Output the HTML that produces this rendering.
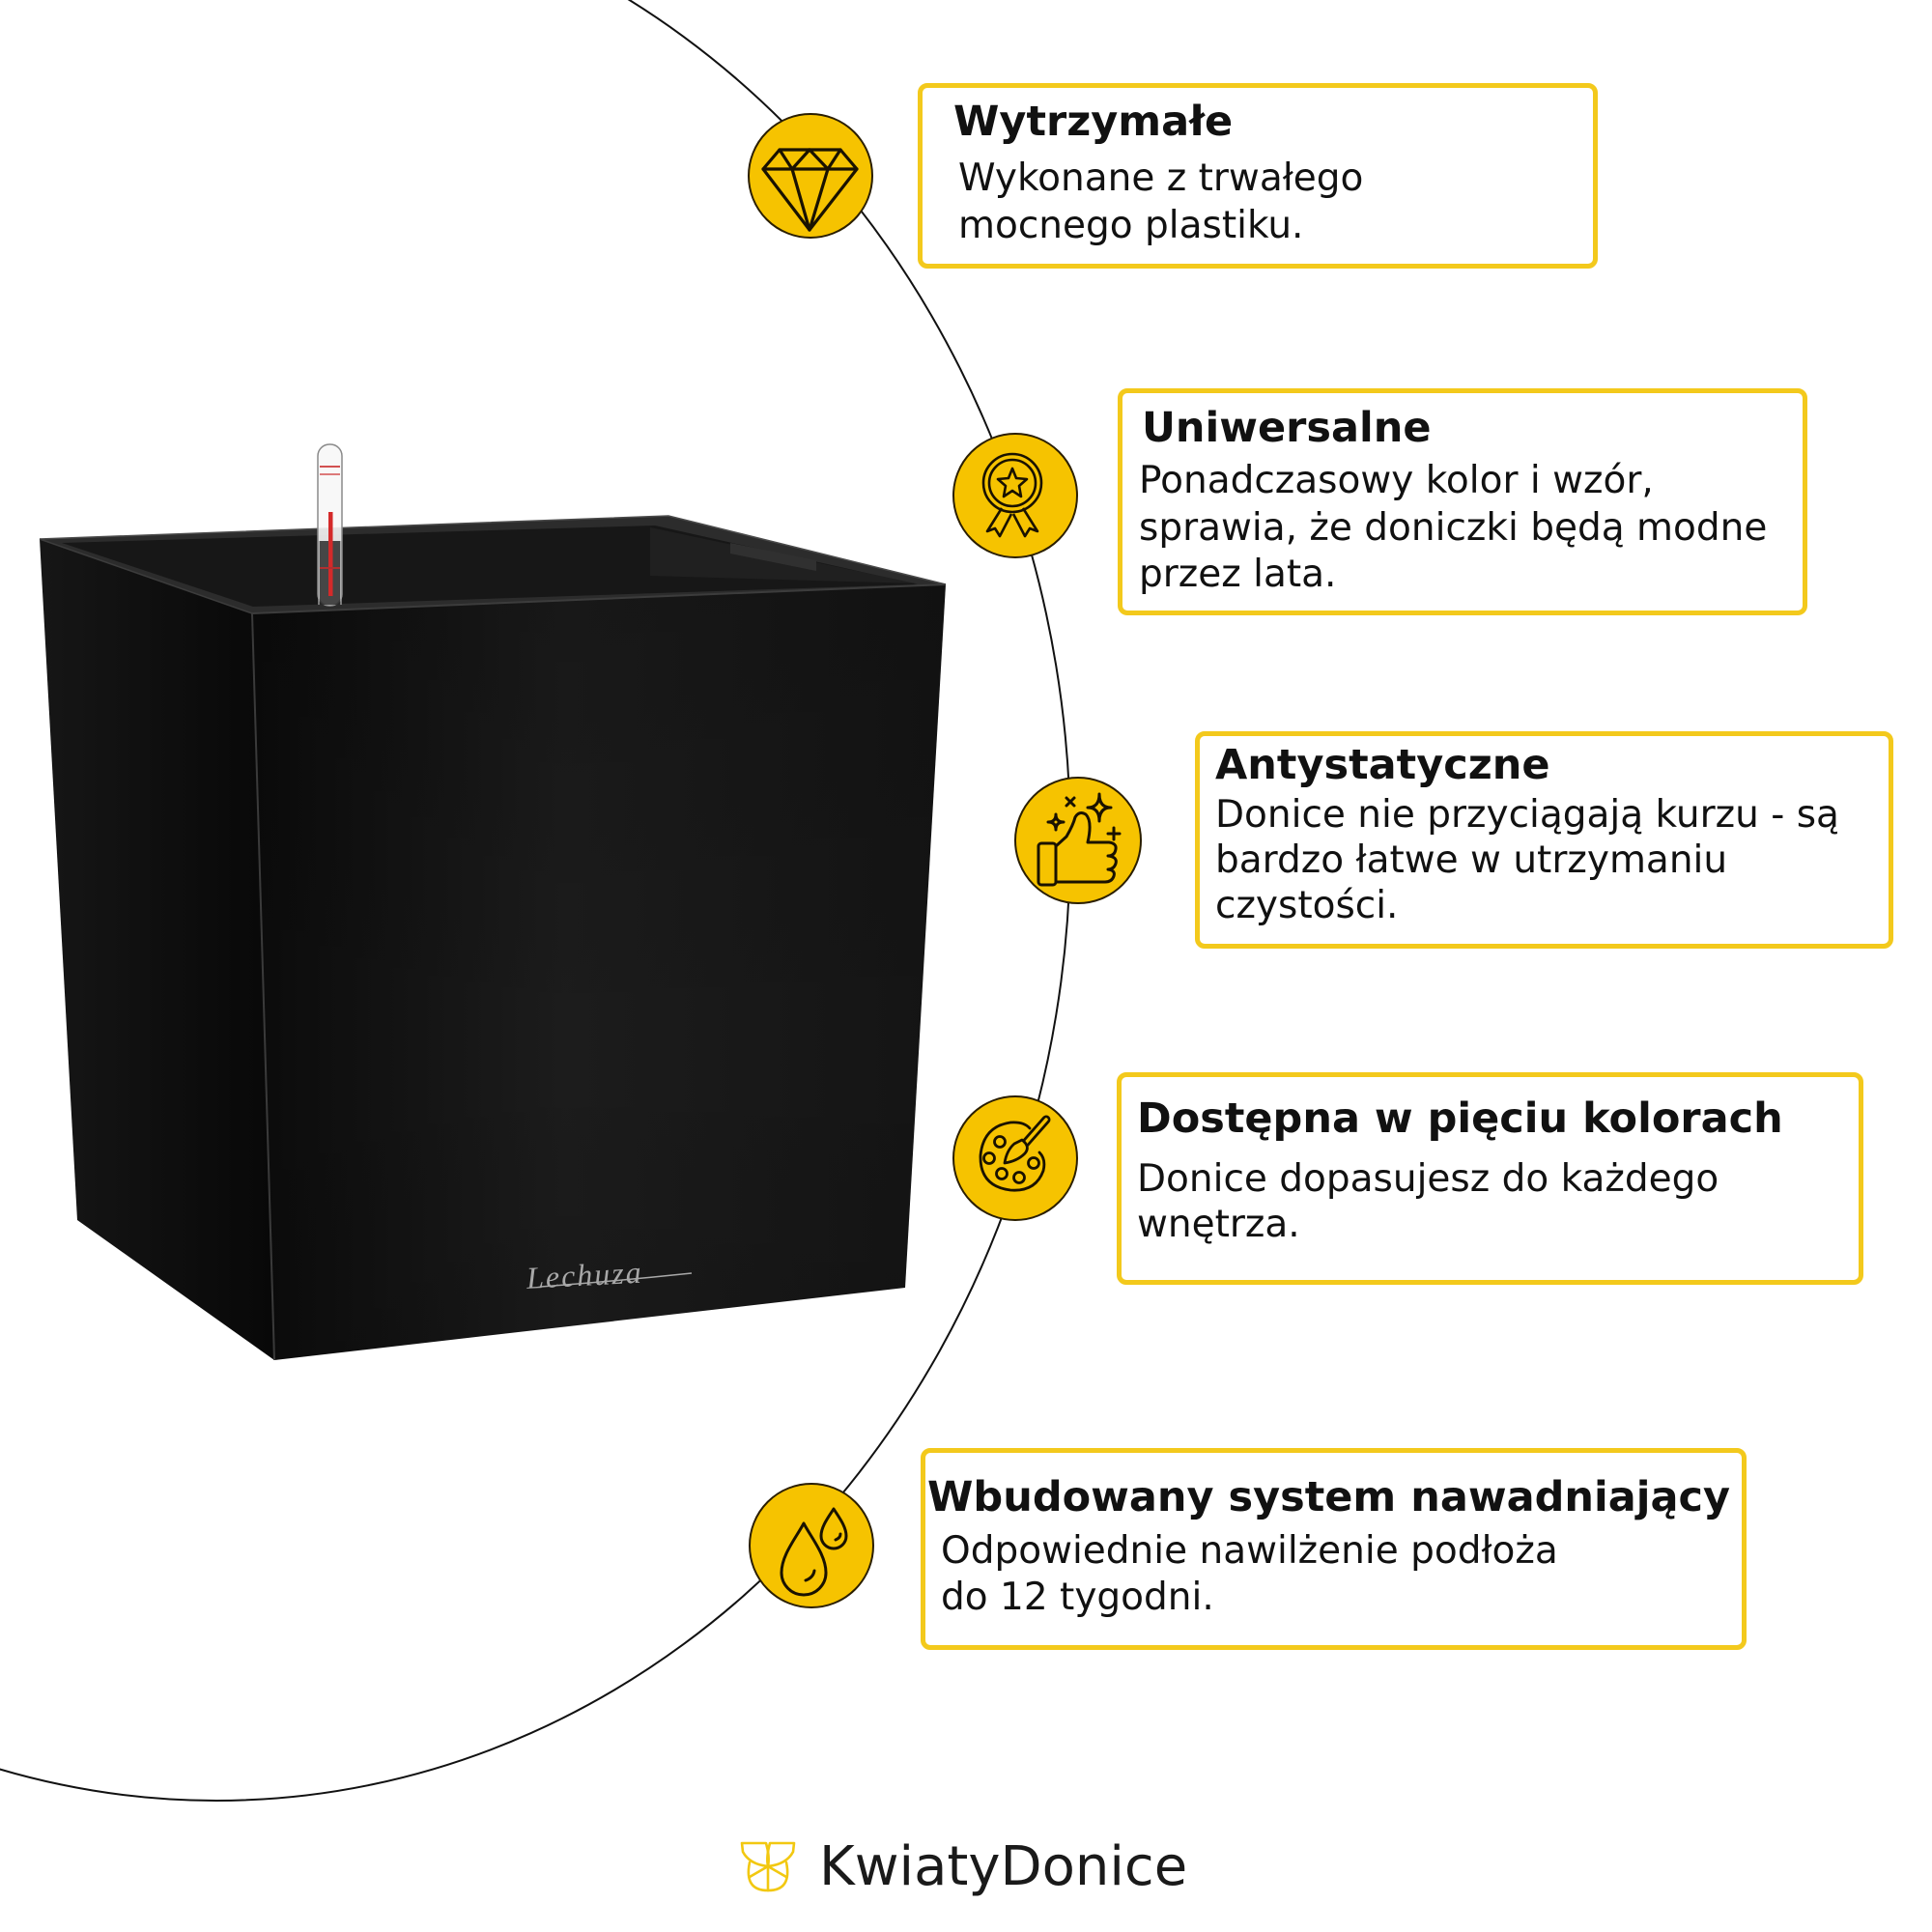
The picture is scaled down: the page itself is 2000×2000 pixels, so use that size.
<!DOCTYPE html>
<html>
<head>
<meta charset="utf-8">
<style>
html,body{margin:0;padding:0;background:#fff;}
#wrap{position:relative;width:2000px;height:2000px;overflow:hidden;background:#fff;}
svg{position:absolute;left:0;top:0;}
.box{position:absolute;border:5px solid #F3C91C;border-radius:10px;box-sizing:border-box;background:#fff;}
.t{position:absolute;font-family:"DejaVu Sans","Liberation Sans",sans-serif;color:#111;white-space:nowrap;}
.h{font-weight:bold;font-size:43px;line-height:50px;}
.b{font-size:39px;}
</style>
</head>
<body>
<div id="wrap">
<svg width="2000" height="2000" viewBox="0 0 2000 2000" xmlns="http://www.w3.org/2000/svg">
  <defs>
    <linearGradient id="fg" x1="0" y1="0" x2="1" y2="0">
      <stop offset="0" stop-color="#0b0b0b"/>
      <stop offset="0.45" stop-color="#1c1c1c"/>
      <stop offset="1" stop-color="#141414"/>
    </linearGradient>
    <linearGradient id="fgv" x1="0" y1="0" x2="0" y2="1">
      <stop offset="0" stop-color="#000" stop-opacity="0.15"/>
      <stop offset="0.6" stop-color="#000" stop-opacity="0"/>
      <stop offset="1" stop-color="#000" stop-opacity="0.1"/>
    </linearGradient>
    <linearGradient id="lg" x1="0" y1="0" x2="1" y2="0">
      <stop offset="0" stop-color="#161616"/>
      <stop offset="1" stop-color="#080808"/>
    </linearGradient>
  </defs>

  <!-- big arc -->
  <ellipse cx="224" cy="870" rx="884" ry="994" fill="none" stroke="#111" stroke-width="2"/>

  <!-- pot -->
  <polygon points="41,558 261,635 284,1408 80,1263" fill="url(#lg)"/>
  <polygon points="261,635 979,605 937,1333 284,1408" fill="url(#fg)"/>
  <polygon points="261,635 979,605 937,1333 284,1408" fill="url(#fgv)"/>
  <line x1="261" y1="635" x2="284" y2="1408" stroke="#3a3a3a" stroke-width="2"/>
  <!-- top -->
  <polygon points="41,558 692,534 979,605 261,635" fill="#2c2c2c"/>
  <polygon points="64,562 678,544 950,605 262,628" fill="#171717"/>
  <polygon points="673,546 948,604 673,596" fill="#202020"/>
  <polygon points="756,562 845,580 845,591 756,573" fill="#303030"/>
  <polyline points="41,558 692,534 979,605" fill="none" stroke="#4a4a4a" stroke-width="1.5"/>
  <line x1="261" y1="635" x2="979" y2="605" stroke="#3c3c3c" stroke-width="2"/>
  <line x1="41" y1="558" x2="261" y2="635" stroke="#3c3c3c" stroke-width="1.5"/>
  <!-- water indicator tube -->
  <rect x="329" y="460" width="25" height="167" rx="12" ry="12" fill="#f7f7f7" fill-opacity="0.9" stroke="#8a8a8a" stroke-width="1.5"/>
  <rect x="331" y="560" width="21" height="66" fill="#2a2a2a" fill-opacity="0.85"/>
  <line x1="330" y1="560" x2="330" y2="626" stroke="#9a9a9a" stroke-width="1.5"/>
  <line x1="353" y1="560" x2="353" y2="626" stroke="#9a9a9a" stroke-width="1.5"/>
  <rect x="340" y="530" width="4.5" height="87" fill="#d42a2a"/>
  <line x1="331" y1="483" x2="352" y2="483" stroke="#d25050" stroke-width="2"/>
  <line x1="331" y1="491" x2="352" y2="491" stroke="#d25050" stroke-width="1.5"/>
  <line x1="331" y1="588" x2="352" y2="588" stroke="#b03030" stroke-width="2"/>
  <!-- Lechuza logo -->
  <text x="545" y="1330" font-family="Liberation Serif, serif" font-style="italic" font-size="32" fill="#a8a8a8" transform="rotate(-3 620 1320)" letter-spacing="2">Lechuza</text>
  <path d="M560 1332 Q640 1326 716 1318" fill="none" stroke="#a8a8a8" stroke-width="1.5"/>

  <!-- circle 1 diamond -->
  <circle cx="839" cy="182" r="64" fill="#F6C300" stroke="#2a1e00" stroke-width="2"/>
  <g fill="none" stroke="#1a1200" stroke-width="3.2" stroke-linejoin="round" stroke-linecap="round">
    <polygon points="807,155 870,155 887,175 838,238 790,175"/>
    <line x1="790" y1="175" x2="887" y2="175"/>
    <polyline points="807,155 820,175 838,155 857,175 870,155"/>
    <line x1="820" y1="175" x2="838" y2="238"/>
    <line x1="857" y1="175" x2="838" y2="238"/>
  </g>

  <!-- circle 2 medal -->
  <circle cx="1051" cy="513" r="64" fill="#F6C300" stroke="#2a1e00" stroke-width="2"/>
  <g fill="none" stroke="#1a1200" stroke-width="2.6" stroke-linejoin="round">
    <circle cx="1048" cy="500" r="30"/>
    <circle cx="1048" cy="500" r="24"/>
    <polygon points="1048,485 1052,495 1063,496 1055,503 1057,514 1048,508 1039,514 1041,503 1033,496 1044,495"/>
    <path d="M1037 526 L1022 550 L1030 547 L1035 555 L1047 532"/>
    <path d="M1059 526 L1074 550 L1066 547 L1061 555 L1049 532"/>
  </g>

  <!-- circle 3 thumbs up -->
  <circle cx="1116" cy="870" r="65" fill="#F6C300" stroke="#2a1e00" stroke-width="2"/>
  <g fill="none" stroke="#1a1200" stroke-width="3" stroke-linejoin="round" stroke-linecap="round">
    <rect x="1075" y="873" width="18" height="43" rx="3"/>
    <path d="M1093 876 L1104 866 Q1111 854 1113 846 Q1117 839 1124 843 Q1131 850 1126 872 L1148 872 Q1156 873 1155 879 Q1154 886 1147 886 Q1157 887 1155 894 Q1153 900 1147 900 Q1155 901 1153 907 Q1151 913 1144 913 L1093 913"/>
    <path d="M1138 822 Q1138 836 1150 836 Q1138 836 1138 850 Q1138 836 1126 836 Q1138 836 1138 822 Z"/>
    <path d="M1093 843 Q1093 851 1101 851 Q1093 851 1093 859 Q1093 851 1085 851 Q1093 851 1093 843 Z"/>
    <line x1="1104" y1="826" x2="1112" y2="834"/>
    <line x1="1112" y1="826" x2="1104" y2="834"/>
    <line x1="1153" y1="857" x2="1153" y2="869"/>
    <line x1="1147" y1="863" x2="1159" y2="863"/>
  </g>

  <!-- circle 4 palette -->
  <circle cx="1051" cy="1199" r="64" fill="#F6C300" stroke="#2a1e00" stroke-width="2"/>
  <g fill="none" stroke="#1a1200" stroke-width="2.8" stroke-linejoin="round" stroke-linecap="round">
    <path d="M1066 1168 Q1060 1161 1046 1162 Q1018 1166 1015 1196 Q1014 1228 1046 1232 Q1072 1234 1080 1212 Q1083 1200 1076 1193"/>
    <circle cx="1035" cy="1182" r="5.5"/>
    <circle cx="1024" cy="1199" r="5.5"/>
    <circle cx="1037" cy="1215" r="5.5"/>
    <circle cx="1055" cy="1219" r="5.5"/>
    <circle cx="1070" cy="1204" r="5.5"/>
  </g>
  <line x1="1083" y1="1159" x2="1061" y2="1184" stroke="#1a1200" stroke-width="9" stroke-linecap="round"/>
  <line x1="1083" y1="1159" x2="1061" y2="1184" stroke="#F6C300" stroke-width="3.5" stroke-linecap="round"/>
  <path d="M1058 1180 Q1067 1187 1061 1194 Q1053 1202 1040 1204 Q1042 1191 1050 1184 Z" fill="#F6C300" stroke="#1a1200" stroke-width="2.8" stroke-linejoin="round"/>

  <!-- circle 5 drops -->
  <circle cx="840" cy="1600" r="64" fill="#F6C300" stroke="#2a1e00" stroke-width="2"/>
  <g fill="none" stroke="#1a1200" stroke-width="3" stroke-linejoin="round" stroke-linecap="round">
    <path d="M832 1577 C840 1592 855 1610 855 1628 A23 23 0 0 1 809 1628 C809 1610 824 1592 832 1577 Z"/>
    <path d="M834 1636 Q842 1633 843 1626"/>
    <path d="M863 1562 C868 1570 876 1580 876 1590 A13 13 0 0 1 850 1590 C850 1580 858 1570 863 1562 Z"/>
    <path d="M865 1594 Q870 1592 870 1588"/>
  </g>

  <!-- butterfly logo -->
  <g fill="none" stroke="#F2C811" stroke-width="2.6" stroke-linejoin="round" stroke-linecap="round">
    <path d="M768 1908 L793 1908 Q797 1922 795 1932 Q776 1930 769 1917 Z"/>
    <path d="M822 1908 L797 1908 Q793 1922 795 1932 Q814 1930 821 1917 Z"/>
    <path d="M776 1928 Q770 1957 795 1957 Q820 1957 814 1928"/>
    <line x1="795" y1="1932" x2="776" y2="1943"/>
    <line x1="795" y1="1932" x2="814" y2="1943"/>
    <line x1="795" y1="1932" x2="795" y2="1957"/>
  </g>
</svg>

<!-- boxes -->
<div class="box" style="left:950px;top:86px;width:704px;height:192px;"></div>
<div class="box" style="left:1157px;top:402px;width:714px;height:235px;"></div>
<div class="box" style="left:1237px;top:757px;width:723px;height:225px;"></div>
<div class="box" style="left:1156px;top:1110px;width:773px;height:220px;"></div>
<div class="box" style="left:953px;top:1499px;width:855px;height:209px;"></div>

<!-- text -->
<div class="t h" style="left:987px;top:101px;">Wytrzymałe</div>
<div class="t b" style="left:992px;top:160px;line-height:49px;">Wykonane z trwałego<br>mocnego plastiku.</div>

<div class="t h" style="left:1182px;top:418px;">Uniwersalne</div>
<div class="t b" style="left:1179px;top:474px;line-height:48.5px;">Ponadczasowy kolor i wzór,<br>sprawia, że doniczki będą modne<br>przez lata.</div>

<div class="t h" style="left:1258px;top:767px;">Antystatyczne</div>
<div class="t b" style="left:1258px;top:819.5px;line-height:47px;">Donice nie przyciągają kurzu - są<br>bardzo łatwe w utrzymaniu<br>czystości.</div>

<div class="t h" style="left:1177px;top:1133px;">Dostępna w pięciu kolorach</div>
<div class="t b" style="left:1177px;top:1196.5px;line-height:47px;">Donice dopasujesz do każdego<br>wnętrza.</div>

<div class="t h" style="left:960px;top:1525px;">Wbudowany system nawadniający</div>
<div class="t b" style="left:974px;top:1581.5px;line-height:48px;">Odpowiednie nawilżenie podłoża<br>do 12 tygodni.</div>

<div class="t" style="left:848px;top:1903px;font-size:56px;line-height:60px;color:#1a1a1a;">KwiatyDonice</div>
</div>
</body>
</html>
